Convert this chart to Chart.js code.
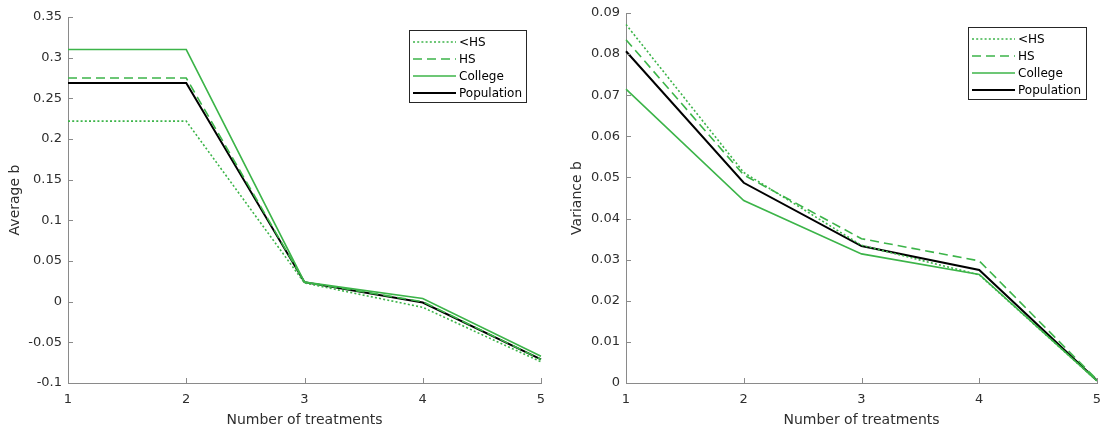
<!DOCTYPE html>
<html>
<head>
<meta charset="utf-8">
<script src="https://cdn.jsdelivr.net/npm/chart.js@4/dist/chart.umd.min.js"></script>
<style>
  body { margin: 0; background: #fff; }
  .wrap { position: absolute; top: 0; }
  #left { left: 0; width: 552px; height: 437px; }
  #right { left: 552px; width: 551px; height: 437px; }
</style>
</head>
<body>
<div class="wrap" id="left"><canvas id="avgChart"></canvas></div>
<div class="wrap" id="right"><canvas id="varChart"></canvas></div>
<script>
// dane
const treatments = ['1', '2', '3', '4', '5'];
const seriesNames = ['<HS', 'HS', 'College', 'Population'];

const avgLessHS = [0.222, 0.222, 0.023, -0.007, -0.074];
const avgHS = [0.275, 0.275, 0.024, 0.000, -0.071];
const avgCollege = [0.310, 0.310, 0.024, 0.004, -0.067];
const avgPopulation = [0.269, 0.269, 0.024, -0.001, -0.071];

const varLessHS = [0.0872, 0.0512, 0.0335, 0.0263, 0.0005];
const varHS = [0.0835, 0.0506, 0.0351, 0.0297, 0.0008];
const varCollege = [0.0715, 0.0444, 0.0314, 0.0264, 0.0005];
const varPopulation = [0.0807, 0.0487, 0.0333, 0.0275, 0.0006];

const avgTicks = [-0.1, -0.05, 0, 0.05, 0.1, 0.15, 0.2, 0.25, 0.3, 0.35];
const varTicks = [0, 0.01, 0.02, 0.03, 0.04, 0.05, 0.06, 0.07, 0.08, 0.09];

const green = '#3cb449';
const axisColor = '#8a8a8a';
const textColor = '#2e2e2e';
const fontFamily = '"DejaVu Sans", sans-serif';

function makeDatasets(lessHS, hs, college, population) {
    return [
        { label: seriesNames[0], data: lessHS, borderColor: green, borderWidth: 1.6, borderDash: [2, 2.2] },
        { label: seriesNames[1], data: hs, borderColor: green, borderWidth: 1.6, borderDash: [9, 5] },
        { label: seriesNames[2], data: college, borderColor: green, borderWidth: 1.6 },
        { label: seriesNames[3], data: population, borderColor: '#000', borderWidth: 2 }
    ];
}

// kreski podziałki skierowane do środka + legenda w ramce
const matlabAxes = {
    id: 'matlabAxes',
    afterDraw(chart, args, opts) {
        const ctx = chart.ctx;
        const area = chart.chartArea;
        const x = chart.scales.x, y = chart.scales.y;
        ctx.save();
        ctx.strokeStyle = axisColor;
        ctx.lineWidth = 1;
        x.ticks.forEach((t, i) => {
            const px = Math.round(x.getPixelForTick(i)) + 0.5;
            ctx.beginPath();
            ctx.moveTo(px, area.bottom);
            ctx.lineTo(px, area.bottom - 5);
            ctx.stroke();
        });
        y.ticks.forEach((t, i) => {
            const py = Math.round(y.getPixelForTick(i)) + 0.5;
            ctx.beginPath();
            ctx.moveTo(area.left, py);
            ctx.lineTo(area.left + 5, py);
            ctx.stroke();
        });

        // legenda
        const lg = opts.legend;
        ctx.fillStyle = '#fff';
        ctx.fillRect(lg.x, lg.y, lg.w, lg.h);
        ctx.strokeStyle = '#262626';
        ctx.lineWidth = 1;
        ctx.strokeRect(lg.x + 0.5, lg.y + 0.5, lg.w, lg.h);
        ctx.font = '12px ' + fontFamily;
        ctx.textBaseline = 'middle';
        chart.data.datasets.forEach((ds, i) => {
            const ly = lg.y + 12 + i * 17;
            ctx.strokeStyle = ds.borderColor;
            ctx.lineWidth = ds.borderWidth;
            ctx.setLineDash(ds.borderDash || []);
            ctx.beginPath();
            ctx.moveTo(lg.x + 4, ly);
            ctx.lineTo(lg.x + 47, ly);
            ctx.stroke();
            ctx.setLineDash([]);
            ctx.fillStyle = '#000';
            ctx.fillText(ds.label, lg.x + 50, ly + 1);
        });
        ctx.restore();
    }
};

function makeChart(canvasId, datasets, ticks, yTitle, box) {
    const ctx = document.getElementById(canvasId).getContext('2d');
    return new Chart(ctx, {
        type: 'line',
        data: { labels: treatments, datasets: datasets },
        plugins: [matlabAxes],
        options: {
            responsive: true,
            maintainAspectRatio: false,
            animation: false,
            elements: { point: { radius: 0 }, line: { tension: 0 } },
            layout: { padding: { top: box.top, right: box.right, left: 0, bottom: 0 } },
            plugins: {
                legend: { display: false },
                tooltip: { enabled: false },
                matlabAxes: { legend: box.legend }
            },
            scales: {
                x: {
                    type: 'category',
                    offset: false,
                    grid: { display: false, drawTicks: false },
                    border: { display: true, color: axisColor, width: 1 },
                    ticks: { color: textColor, font: { family: fontFamily, size: 13 }, padding: 9, maxRotation: 0 },
                    title: {
                        display: true, text: 'Number of treatments', color: textColor,
                        font: { family: fontFamily, size: 14 }, padding: { top: 0, bottom: 8 }
                    },
                    afterFit: s => { s.height = 54; s.paddingLeft = 0; s.paddingRight = 0; }
                },
                y: {
                    min: ticks[0],
                    max: ticks[ticks.length - 1],
                    afterBuildTicks: s => { s.ticks = ticks.map(v => ({ value: v })); },
                    grid: { display: false, drawTicks: false },
                    border: { display: true, color: axisColor, width: 1 },
                    ticks: {
                        color: textColor, font: { family: fontFamily, size: 13 }, padding: 6,
                        callback: v => String(Math.round(v * 1000) / 1000)
                    },
                    title: {
                        display: true, text: yTitle, color: textColor,
                        font: { family: fontFamily, size: 14 }, padding: { top: box.titlePad, bottom: 0 }
                    },
                    afterFit: s => { s.width = box.left; s.paddingTop = 0; s.paddingBottom = 0; }
                }
            }
        }
    });
}

makeChart('avgChart', makeDatasets(avgLessHS, avgHS, avgCollege, avgPopulation), avgTicks, 'Average b',
    { left: 68, right: 11, top: 17, titlePad: 7, legend: { x: 409, y: 30, w: 117, h: 72 } });

makeChart('varChart', makeDatasets(varLessHS, varHS, varCollege, varPopulation), varTicks, 'Variance b',
    { left: 74, right: 6, top: 13, titlePad: 17, legend: { x: 416, y: 27, w: 118, h: 72 } });
</script>
</body>
</html>
